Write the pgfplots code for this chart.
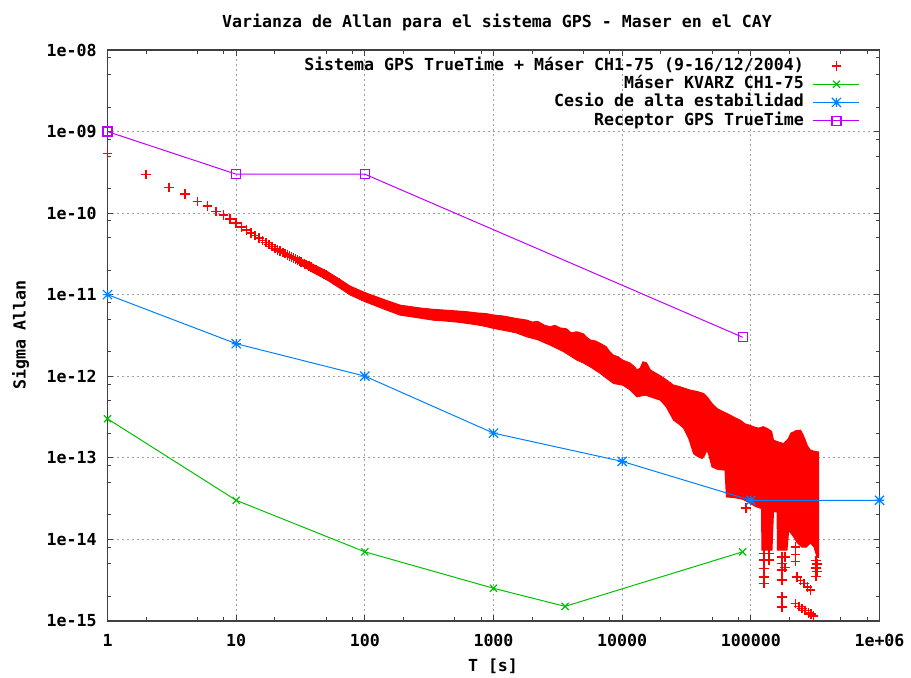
\documentclass[border=0pt]{standalone}
\usepackage{fontspec}
\usepackage{pgfplots}
\pgfplotsset{compat=1.18}
\newfontfamily\gpfont{DejaVu Sans Mono}
\newcommand\gp{\gpfont\bfseries\fontsize{8.3}{10}\selectfont}
\definecolor{gpred}{RGB}{255,0,0}
\definecolor{gpgreen}{RGB}{0,192,0}
\definecolor{gpblue}{RGB}{0,128,255}
\definecolor{gpmag}{RGB}{192,0,255}
% gnuplot-style star: + and x together
\pgfdeclareplotmark{gpstar}{%
  \pgfpathmoveto{\pgfqpoint{-\pgfplotmarksize}{0pt}}\pgfpathlineto{\pgfqpoint{\pgfplotmarksize}{0pt}}%
  \pgfpathmoveto{\pgfqpoint{0pt}{-\pgfplotmarksize}}\pgfpathlineto{\pgfqpoint{0pt}{\pgfplotmarksize}}%
  \pgfpathmoveto{\pgfqpoint{-\pgfplotmarksize}{-\pgfplotmarksize}}\pgfpathlineto{\pgfqpoint{\pgfplotmarksize}{\pgfplotmarksize}}%
  \pgfpathmoveto{\pgfqpoint{-\pgfplotmarksize}{\pgfplotmarksize}}\pgfpathlineto{\pgfqpoint{\pgfplotmarksize}{-\pgfplotmarksize}}%
  \pgfusepathqstroke}

\begin{document}
\begin{tikzpicture}
\useasboundingbox (0,0) rectangle (455.5pt,338.5pt);
\begin{loglogaxis}[
    scale only axis,
    width=386pt, height=285.35pt,
    at={(53.75pt,28.15pt)}, anchor=south west,
    xmin=1, xmax=1e6, ymin=1e-15, ymax=1e-8,
    xtick={1,10,100,1000,10000,100000,1000000},
    xticklabels={1,10,100,1000,10000,100000,1e+06},
    ytick={1e-15,1e-14,1e-13,1e-12,1e-11,1e-10,1e-9,1e-8},
    yticklabels={1e-15,1e-14,1e-13,1e-12,1e-11,1e-10,1e-09,1e-08},
    minor xtick={2,5,8,20,50,80,200,500,800,2000,5000,8000,20000,50000,80000,200000,500000,800000},
    minor ytick={2e-15,5e-15,8e-15,2e-14,5e-14,8e-14,2e-13,5e-13,8e-13,2e-12,5e-12,8e-12,2e-11,5e-11,8e-11,2e-10,5e-10,8e-10,2e-9,5e-9,8e-9},
    grid=major,
    major grid style={gray!75, line width=0.5pt, dash pattern=on 1pt off 1.5pt},
    major tick length=3pt, minor tick length=1.75pt,
    every tick/.style={black!75, line width=0.5pt},
    axis line style={black!75, line width=0.9pt},
    tick label style={font=\gp},
    xticklabel style={anchor=base, inner sep=0pt, yshift=-13pt},
    yticklabel style={anchor=east, inner sep=0pt, xshift=-5.25pt},
    legend plot pos=right,
    legend cell align=right,
    legend style={at={(0.9747,0.9851)}, anchor=north east, draw=none, fill=none,
        inner sep=0pt, outer sep=0pt, row sep=1.6pt, column sep=4.5pt,
        font=\gp, nodes={inner sep=0pt, text height=6pt, text depth=1.5pt}},
    legend image code/.code={\draw[mark repeat=2,mark phase=2,#1] plot coordinates {(0pt,0pt) (11.5pt,0pt) (23pt,0pt)};},
]
% Sistema GPS TrueTime + Maser (medida)
\addplot[only marks, mark=+, color=gpred, mark size=2.4pt, line width=0.8pt] coordinates {
(1,5.4e-10) (2,2.98e-10) (3,2.06e-10) (4,1.71e-10) (5,1.38e-10) (6,1.22e-10)
(7,1.05e-10) (8,9.5e-11) (9,8.4e-11) (10,7.5e-11) (11,6.79e-11) (12,6.21e-11)
(13,5.73e-11) (14,5.31e-11) (15,4.94e-11) (16,4.63e-11) (17,4.36e-11) (18,4.11e-11)
(19,3.89e-11) (20,3.69e-11) (21,3.55e-11) (22,3.41e-11) (23,3.29e-11) (24,3.18e-11)
(25,3.08e-11) (26,2.98e-11) (27,2.88e-11) (28,2.80e-11) (29,2.72e-11) (30,2.65e-11)
(31,2.58e-11) (32,2.51e-11) (34,2.39e-11) (35,2.33e-11) (37,2.23e-11) (38,2.18e-11)
(40,2.09e-11) (42,2.01e-11) (44,1.93e-11) (46,1.86e-11) (48,1.80e-11) (50,1.74e-11)
(52,1.67e-11) (55,1.58e-11) (57,1.52e-11) (60,1.45e-11) (63,1.38e-11) (66,1.31e-11)
(69,1.26e-11) (72,1.20e-11) (75,1.15e-11) (79,1.10e-11) (83,1.06e-11) (87,1.03e-11)
(91,9.97e-12) (95,9.68e-12) (100,9.33e-12) (105,9.07e-12) (110,8.83e-12) (115,8.61e-12)
(120,8.39e-12) (126,8.15e-12) (132,7.94e-12) (138,7.73e-12) (145,7.52e-12) (152,7.31e-12)
(159,7.11e-12) (166,6.95e-12)
};
\addlegendentry{Sistema GPS TrueTime + Máser CH1-75 (9-16/12/2004)}
% banda de la medida (envolvente superior y luego inferior)
\addplot[forget plot, draw=gpred, fill=gpred, line width=0.5pt] coordinates {
(30,2.86e-11) (40,2.33e-11) (50,1.96e-11) (63,1.56e-11) (77,1.27e-11) (100,1.06e-11)
(150,8.4e-12) (188,7.43e-12) (230,7.1e-12) (280,6.8e-12) (339,6.6e-12) (420,6.45e-12)
(520,6.3e-12) (621,6.17e-12) (750,5.95e-12) (880,5.85e-12) (1000,5.62e-12) (1200,5.45e-12)
(1500,5.1e-12) (1820,4.86e-12) (2000,4.6e-12) (2200,4.7e-12) (2500,4.2e-12) (2760,4.03e-12)
(3000,4.2e-12) (3300,3.9e-12) (3700,3.8e-12) (4000,3.4e-12) (4460,3.5e-12) (5000,3.3e-12)
(5300,3.0e-12) (5650,2.77e-12) (6200,2.7e-12) (6760,2.52e-12) (7500,2.3e-12) (8000,2.0e-12)
(8580,1.8e-12) (9300,1.73e-12) (10100,1.57e-12) (11500,1.45e-12) (12500,1.3e-12) (13000,1.19e-12)
(13800,1.25e-12) (14500,1.5e-12) (15500,1.45e-12) (16500,1.2e-12) (17500,1.13e-12) (20000,1.0e-12)
(22500,8.8e-13) (25100,7.76e-13) (27500,7.5e-13) (29000,7.3e-13) (33900,6.73e-13) (38000,6.5e-13)
(43000,6.12e-13) (46000,5.5e-13) (50000,4.6e-13) (54600,4.01e-13) (60000,3.7e-13) (65000,3.5e-13)
(69300,3.32e-13) (75000,3.1e-13) (82800,2.88e-13) (90000,2.6e-13) (98000,2.5e-13) (105000,2.39e-13)
(115000,2.3e-13) (125000,2.4e-13) (134000,2.28e-13) (145000,2.1e-13) (150000,1.64e-13) (165000,1.55e-13)
(180000,1.49e-13) (195000,1.7e-13) (205000,2.0e-13) (215000,2.07e-13) (225000,2.15e-13) (243000,2.17e-13)
(255000,1.9e-13) (265000,1.64e-13) (275000,1.4e-13) (290000,1.24e-13) (310000,1.2e-13) (327000,1.18e-13)
(337000,1.18e-13)
(337000,6e-15) (327000,6e-15) (310000,8e-15) (290000,9e-15) (270000,8e-15) (250000,8e-15)
(230000,9e-15) (215000,1.07e-14) (197000,1.29e-14) (191000,7.33e-15) (161000,7.33e-15) (160000,2.16e-14)
(150000,2.16e-14) (146000,7.33e-15) (122000,7.33e-15) (121000,2.38e-14) (110000,2.5e-14) (99100,2.74e-14)
(90000,3.0e-14) (82800,3.15e-14) (72000,3.25e-14) (64600,3.30e-14) (63000,7.03e-14) (55000,7.2e-14)
(49900,7.71e-14) (47000,1.1e-13) (45600,1.24e-13) (43500,1.05e-13) (41800,9.77e-14) (38000,1.05e-13)
(35900,1.12e-13) (33000,1.7e-13) (30000,2.3e-13) (27500,2.6e-13) (25100,2.88e-13) (22000,4.2e-13)
(19800,5.08e-13) (17000,5.5e-13) (15100,5.85e-13) (13000,5.57e-13) (11500,6.8e-13) (10100,7.76e-13)
(8580,8.13e-13) (7500,9.5e-13) (6760,1.08e-12) (5650,1.30e-12) (5000,1.45e-12) (4460,1.57e-12)
(3500,2.0e-12) (2760,2.40e-12) (2200,2.8e-12) (1820,3.03e-12) (1500,3.4e-12) (1200,3.65e-12)
(1000,3.85e-12) (880,4.05e-12) (750,4.25e-12) (621,4.44e-12) (520,4.6e-12) (420,4.75e-12)
(339,4.86e-12) (280,5.1e-12) (230,5.35e-12) (188,5.6e-12) (150,6.4e-12) (100,8.2e-12)
(77,9.9e-12) (63,1.22e-11) (50,1.54e-11) (40,1.85e-11) (30,2.45e-11)
};
% puntos sueltos por debajo de la banda
\addplot[forget plot, only marks, mark=+, color=gpred, mark size=2.4pt, line width=0.8pt] coordinates {
(91800,2.4e-14)
(126000,6.67e-15) (126000,5.52e-15) (126000,4.37e-15) (126000,3.45e-15) (126000,2.86e-15)
(138000,6.67e-15) (138000,5.52e-15)
(175000,6.07e-15) (175000,5.04e-15) (175000,4.17e-15) (175000,3.14e-15) (175000,1.96e-15) (175000,1.48e-15)
(185000,6.0e-15) (185000,4.5e-15)
(222000,8e-15) (222000,6.5e-15) (222000,5.3e-15)
(229000,3.45e-15) (243000,3.1e-15) (258000,2.86e-15) (275000,2.6e-15) (290000,2.37e-15)
(222000,1.63e-15) (236000,1.5e-15) (250000,1.41e-15) (265000,1.33e-15) (281000,1.25e-15)
(295000,1.2e-15) (308000,1.14e-15)
(320000,5.5e-15) (320000,4.4e-15) (320000,3.5e-15) (327000,5e-15) (327000,4e-15)
};
% Maser KVARZ CH1-75
\addplot[color=gpgreen, line width=0.5pt, mark=x, mark size=2.5pt, mark options={solid, line width=0.6pt}] coordinates {
(1,3e-13) (10,3e-14) (100,7e-15) (1000,2.5e-15) (3600,1.5e-15) (86400,7e-15)
};
\addlegendentry{Máser KVARZ CH1-75}
% Cesio de alta estabilidad
\addplot[color=gpblue, line width=0.5pt, mark=gpstar, mark size=2.3pt, mark options={solid, line width=0.6pt}] coordinates {
(1,1e-11) (10,2.5e-12) (100,1e-12) (1000,2e-13) (10000,9e-14) (100000,3e-14) (1000000,3e-14)
};
\addlegendentry{Cesio de alta estabilidad}
% Receptor GPS TrueTime
\addplot[color=gpmag, line width=0.5pt, mark=square, mark size=2.25pt, mark options={solid, line width=0.6pt}] coordinates {
(1,1e-9) (10,3e-10) (100,3e-10) (86400,3e-12)
};
\addlegendentry{Receptor GPS TrueTime}
\end{loglogaxis}
\node[font=\gp] at (248.5pt,327.25pt) {Varianza de Allan para el sistema GPS - Maser en el CAY};
\node[font=\gp] at (246.5pt,5.15pt) {T [s]};
\node[font=\gp, rotate=90] at (10.35pt,171pt) {Sigma Allan};
\end{tikzpicture}
\end{document}
